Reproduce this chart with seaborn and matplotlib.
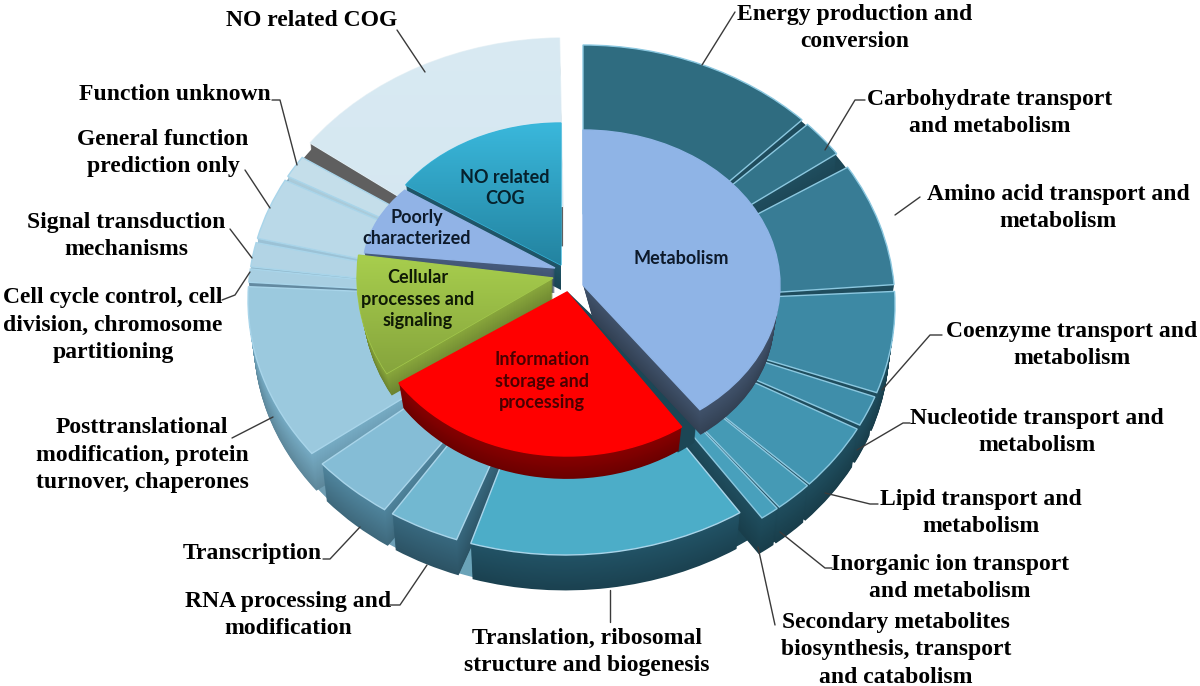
import numpy as np
import matplotlib
matplotlib.use("Agg")
import matplotlib.pyplot as plt
from matplotlib.colors import LinearSegmentedColormap, to_rgb
import seaborn as sns

# ---------- data (share of the circle, degrees) ----------
ring_meta_names = ["Energy production and\nconversion", "Carbohydrate transport\nand metabolism",
                   "Amino acid transport and\nmetabolism", "Coenzyme transport and\nmetabolism",
                   "Nucleotide transport and\nmetabolism", "Lipid transport and\nmetabolism",
                   "Inorganic ion transport\nand metabolism",
                   "Secondary metabolites\nbiosynthesis, transport\nand catabolism"]
ring_meta_values = [44.6, 8.4, 27.5, 22.7, 6.8, 15.0, 7.0, 3.5]
ring_low_names = ["Translation, ribosomal\nstructure and biogenesis", "RNA processing and\nmodification",
                  "Transcription", "Posttranslational\nmodification, protein\nturnover, chaperones",
                  "Cell cycle control, cell\ndivision, chromosome\npartitioning",
                  "Signal transduction\nmechanisms", "General function\nprediction only", "Function unknown"]
ring_low_values = [50.8, 13.0, 15.3, 40.0, 3.0, 5.5, 14.0, 5.0]
ring_no_names = ["NO related COG"]
ring_no_values = [52.5]
inner_names = ["Metabolism", "Information\nstorage and\nprocessing", "Cellular\nprocesses and\nsignaling",
               "Poorly\ncharacterized", "NO related\nCOG"]
inner_values = [143.6, 90.9, 39.3, 31.5, 55.7]

# ---------- style / layout ----------
W, H = 1200, 686
sns.set_theme(style="white")
SERIF = "Liberation Serif"
SANS = "Lato"

meta_top = ["#2f6c80", "#33748a", "#387c95", "#3d89a4", "#3f8eaa", "#4295b1", "#459ab5", "#48a0bc"]
meta_wall = ["#1c4655"] * 8
low_top = ["#4cadc8", "#72b8d1", "#85bdd6", "#9bc9de", "#a8cfe2", "#b2d4e5", "#bad9e8", "#c4deea"]
low_wall = ["#1e4a5b", "#325e72", "#47778d", "#6a9ab0", "#5a7d92", "#7fa3b5", "#8db0c2", "#9ab8c6"]
no_top = ["#d3e6f0"]
no_wall = ["#5f5f5f"]

meta_gaps = [1.4, 3.6, 1.5, 1.0, 1.0, 0.5, 0.5, 0]
low_gaps = [2.7, 1.7, 3.0, 1.0, 0.5, 1.0, 1.0, 2.5]
meta_gap_col = ["#1c4655"] * 7
low_gap_col = ["#6aa3b8", "#6d9fb6", "#6e9cb1", "#4f6f85", "#8fb3c6", "#5f8096", "#6b8ea3", "#5f5f5f"]

fig = plt.figure(figsize=(W / 100, H / 100), dpi=100, facecolor="white")


def ellipse_axes(cx, cy, rx, ry):
    ax = fig.add_axes([0, 0, 1, 1], facecolor="none")
    ax._ell = (cx, cy, rx, ry)
    return ax


def finish(ax):
    cx, cy, rx, ry = ax._ell
    ax.set_aspect("auto")
    ax.set_xlim((0 - cx) / rx, (W - cx) / rx)
    ax.set_ylim((cy - H) / ry, cy / ry)
    ax.axis("off")


def shade(color, f):
    return tuple(min(1, c * f) for c in to_rgb(color))


def slab(ax, start, width, top, wall, depth, inner=0.0, edge=None, lw=1.0, grad=None, grad_y=(-1.1, 1.1),
         shrink=0.018, xshift=0.0, radius=1.0, flat_wall=False):
    """One extruded slice: a stack of pie slices, lowest first; lower layers
    shrink a little, which gives the perspective of the side walls."""
    rx, ry = ax._ell[2], ax._ell[3]
    for k in range(int(depth), 0, -1):
        t = k / depth
        r = radius * (1 - shrink * t)
        props = {"linewidth": 0}
        if inner:
            props["width"] = r - inner
        col = wall if flat_wall else shade(wall, 1.12 - 0.24 * t)
        ax.pie([width / 360], normalize=False, startangle=90 - start, counterclock=False,
               center=(xshift * t / rx, -k / ry), radius=r, colors=[col], wedgeprops=props)
    p = {"linewidth": lw, "edgecolor": edge or top}
    if inner:
        p["width"] = radius - inner
    w, _ = ax.pie([width / 360], normalize=False, startangle=90 - start, counterclock=False,
                  center=(0, 0), radius=radius, colors=[top], wedgeprops=p)
    if grad is not None:
        cmap = LinearSegmentedColormap.from_list("g", grad)
        im = ax.imshow(np.linspace(0, 1, 200).reshape(-1, 1), cmap=cmap, aspect="auto",
                       extent=(-1.1, 1.1, grad_y[0], grad_y[1]), origin="upper", zorder=w[0].get_zorder())
        im.set_clip_path(w[0])
    finish(ax)


def starts(first, values, gaps):
    out, a = [], first
    for v, g in zip(values, gaps):
        out.append(a)
        a += v + g
    return out


# ---------- outer ring, back to front ----------
RING_DEPTH = 40
RING_IN = 0.35
LOW = (565, 300, 317, 255)
META = (583, 305, 312, 260)

slab(ellipse_axes(565, 297, 317, 259), 306.5, ring_no_values[0], no_top[0], no_wall[0], RING_DEPTH,
     inner=RING_IN, edge="#e6f1f6", grad=["#d9eaf3", "#cfe3ee"], flat_wall=True)

low_starts = starts(146.5, ring_low_values, low_gaps)
meta_starts = starts(0, ring_meta_values, meta_gaps)

# strips between neighbouring slices
for s, v, g, c in zip(meta_starts, ring_meta_values, meta_gaps, meta_gap_col):
    if g:
        slab(ellipse_axes(*META), s + v - 0.2, g + 0.4, c, c, RING_DEPTH, inner=RING_IN,
             radius=0.992, flat_wall=True)
for s, v, g, c in zip(low_starts, ring_low_values, low_gaps, low_gap_col):
    slab(ellipse_axes(*LOW), s + v - 0.2, g + 0.4, c, c, RING_DEPTH, inner=RING_IN,
         radius=0.992, flat_wall=True)
slab(ellipse_axes(*LOW), 143.0, 3.7, "#1c4655", "#1c4655", RING_DEPTH, inner=RING_IN,
     radius=0.992, flat_wall=True)

items = []
for s, v, t, wl in zip(low_starts, ring_low_values, low_top, low_wall):
    items.append((LOW, s, v, t, wl, "#a9d5ea"))
for s, v, t, wl in zip(meta_starts, ring_meta_values, meta_top, meta_wall):
    items.append((META, s, v, t, wl, "#8cc8e0"))
items.sort(key=lambda it: -np.cos(np.radians(it[1] + it[2] / 2)))
for ell, s, v, t, wl, e in items:
    slab(ellipse_axes(*ell), s, v, t, wl, RING_DEPTH, inner=RING_IN, edge=e)

# ---------- inner pie, back to front ----------
RED_ELL = (567, 292, 202, 164)
inner_specs = [
    (4, (561, 265, 188, 142), 304.3, "#38b5da", "#1d4e5f", ["#3ab8dc", "#2383a0"], (0, 1.0), 25, 0.03, 0),
    (3, (555, 268, 192, 125), 277.0, "#91b3e6", "#3f5270", None, (-1.1, 1.1), 25, 0.03, 0),
    (2, (553, 278, 196, 180), 238.0, "#a3c84c", "#7b9636", ["#a9d04e", "#85a33c"], (-0.55, 0.15), 25, 0.03, 0),
    (0, (583, 285, 197, 155), 0.0, "#8fb4e6", "#3a4a60", None, (-1.1, 1.1), 35, 0.08, 10),
    (1, RED_ELL, 145.4, "#ff0000", "#7a0000", None, (-1.1, 1.1), 27, 0.025, 0),
]
for idx, ell, s, top, wall, grad, gy, d, sh, xs in inner_specs:
    if idx == 0:
        # dark strip that shows between the wall of Metabolism and the red slice
        slab(ellipse_axes(*RED_ELL), 140.0, 6.0, "#1c4655", "#1c4655", 27, flat_wall=True)
    slab(ellipse_axes(*ell), s, inner_values[idx], top, wall, d, grad=grad, grad_y=gy, shrink=sh, xshift=xs)

# ---------- labels and leaders in picture coordinates ----------
ov = fig.add_axes([0, 0, 1, 1], facecolor="none")
ov.set_xlim(0, W)
ov.set_ylim(H, 0)
ov.axis("off")

leaders = [
    [(397, 30), (425, 72)], [(735, 12), (702, 65)], [(865, 100), (855, 100), (825, 150)],
    [(920, 197), (895, 215)], [(942, 335), (930, 335), (882, 390)],
    [(910, 423), (903, 423), (857, 450)], [(878, 504), (870, 504), (825, 493)],
    [(832, 568), (825, 568), (780, 532)], [(775, 625), (758, 547)], [(610, 590), (610, 622)],
    [(390, 605), (400, 605), (427, 565)], [(323, 559), (330, 559), (360, 527)],
    [(232, 438), (273, 417)], [(222, 300), (235, 295), (250, 272)], [(230, 229), (252, 258)],
    [(245, 170), (270, 208)], [(272, 100), (280, 100), (297, 165)],
]
for pts in leaders:
    xs_, ys_ = zip(*pts)
    ov.plot(xs_, ys_, color="#3a3a3a", lw=1.0, solid_capstyle="round")

outer_labels = ring_meta_names + ring_low_names + ring_no_names
outer_pos = [(855, 28), (990, 113), (1058, 208), (1072, 345), (1037, 432), (981, 513), (950, 578), (896, 650),
             (587, 652), (288, 615), (252, 554), (142, 455), (113, 325), (126, 236), (163, 153), (175, 94),
             (312, 20)]
for s, (x, y) in zip(outer_labels, outer_pos):
    ov.text(x, y, s, ha="center", va="center", family=SERIF, weight="bold", fontsize=17,
            color="black", linespacing=1.38)

inner_pos = [(681, 258), (542, 381), (418, 299), (417, 228), (505, 188)]
inner_col = ["#0d1a2b", "#4a0000", "#0f1a05", "#0d1a2b", "#06212c"]
for s, (x, y), c in zip(inner_names, inner_pos, inner_col):
    ov.text(x, y, s, ha="center", va="center", family=SANS, weight="bold", fontsize=13,
            color=c, linespacing=1.35)

fig.savefig("out.png", dpi=100, facecolor="white")
